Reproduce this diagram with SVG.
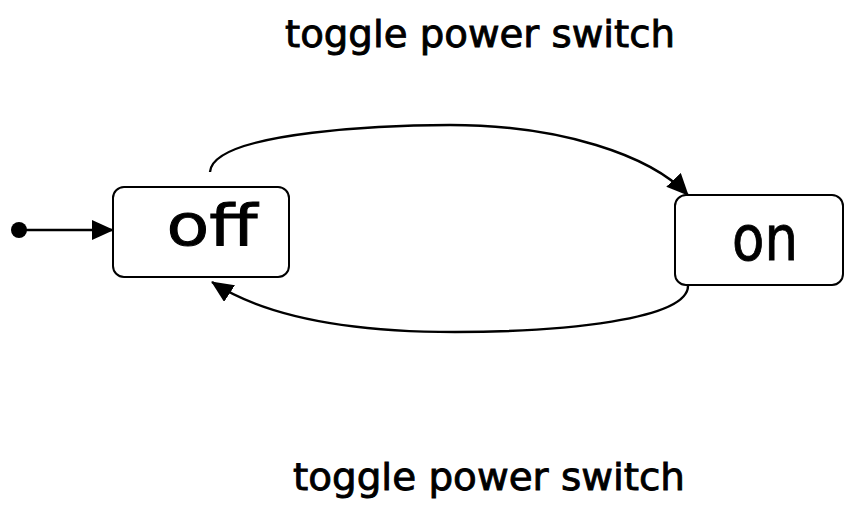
<svg xmlns="http://www.w3.org/2000/svg" width="845" height="506" viewBox="0 0 845 506">
<style>
.state{fill:#fff;stroke:#000;stroke-width:2}
.lbl{font-family:"Comic Sans MS","DejaVu Sans",sans-serif;fill:#000;stroke:#000;stroke-width:0.9}
.edge{fill:none;stroke:#000;stroke-width:2.4}
</style>
<defs>
<marker id="ah" viewBox="0 0 22 20" refX="21" refY="10" markerWidth="22" markerHeight="20" markerUnits="userSpaceOnUse" orient="auto">
<path d="M0,0 L22,10 L0,20 Z" fill="#000"/>
</marker>
</defs>
<rect width="845" height="506" fill="#fff"/>
<g id="connectors">
<circle cx="19" cy="230" r="8" fill="#000"/>
<line class="edge" x1="19" y1="230" x2="113" y2="230" marker-end="url(#ah)"/>
<path class="edge" d="M210,172 C213,130 400,125 450,125 C560,125 650,155 688,195" marker-end="url(#ah)"/>
<path class="edge" d="M688,285 C690,320 560,332 455,332 C360,332 270,320 212,282" marker-end="url(#ah)"/>
</g>
<g id="off">
<rect class="state" x="113" y="187" width="176" height="90" rx="11"/>
<text class="lbl" x="212" y="245" font-size="57" text-anchor="middle" textLength="91" lengthAdjust="spacingAndGlyphs">off</text>
</g>
<g id="on">
<rect class="state" x="675" y="195" width="168" height="90" rx="11"/>
<text class="lbl" x="765" y="260" font-size="63" text-anchor="middle" textLength="66" lengthAdjust="spacingAndGlyphs">on</text>
</g>
<g id="labels">
<text class="lbl" x="480" y="47" font-size="38" text-anchor="middle" textLength="390" lengthAdjust="spacingAndGlyphs">toggle power switch</text>
<text class="lbl" x="489" y="490" font-size="38" text-anchor="middle" textLength="392" lengthAdjust="spacingAndGlyphs">toggle power switch</text>
</g>
</svg>
